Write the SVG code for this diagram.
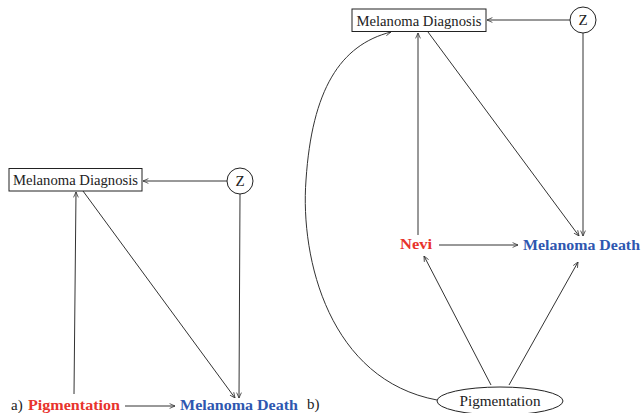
<svg xmlns="http://www.w3.org/2000/svg" width="641" height="413" viewBox="0 0 641 413">
<defs>
<marker id="ah" viewBox="0 0 10 10" refX="10" refY="5" markerWidth="6" markerHeight="6" orient="auto" markerUnits="userSpaceOnUse">
<path d="M1,1 L10,5 L1,9" fill="none" stroke="#333" stroke-width="1.3"/>
</marker>
</defs>
<style>
text{font-family:"Liberation Serif","DejaVu Serif",serif;font-size:15px;fill:#222}
.red{fill:#e8332c;font-weight:bold}
.blue{fill:#2e57b0;font-weight:bold}
.node{fill:#fff;stroke:#222;stroke-width:1}
.edge{fill:none;stroke:#333;stroke-width:1;marker-end:url(#ah)}
</style>
<rect width="641" height="413" fill="#fff"/>
<g id="connectors">
<line class="edge" x1="227" y1="181" x2="143" y2="181"/>
<line class="edge" x1="125" y1="406" x2="175" y2="406"/>
<line class="edge" x1="74" y1="394" x2="76" y2="192"/>
<line class="edge" x1="83" y1="191" x2="235" y2="398"/>
<line class="edge" x1="240" y1="194" x2="239" y2="398"/>
<line class="edge" x1="570" y1="20" x2="487" y2="20"/>
<path class="edge" d="M437,400 C330,380 300,260 306,180 C312,90 340,45 391,32"/>
<line class="edge" x1="418" y1="235" x2="418" y2="33"/>
<line class="edge" x1="428" y1="32" x2="579" y2="236"/>
<line class="edge" x1="583" y1="33" x2="583" y2="236"/>
<line class="edge" x1="439" y1="245" x2="518" y2="245"/>
<line class="edge" x1="491" y1="385" x2="424" y2="256"/>
<line class="edge" x1="509" y1="385" x2="578" y2="262"/>
</g>
<g id="a-diagnosis">
<rect class="node" x="9" y="168.5" width="133" height="22.5"/>
<text x="75.5" y="185" text-anchor="middle" textLength="125" lengthAdjust="spacingAndGlyphs">Melanoma Diagnosis</text>
</g>
<g id="a-z">
<circle class="node" cx="240" cy="181" r="13"/>
<text x="240" y="186" text-anchor="middle">Z</text>
</g>
<g id="a-label"><text x="11" y="410">a)</text></g>
<g id="a-pigmentation">
<text class="red" x="28" y="410" textLength="92" lengthAdjust="spacingAndGlyphs">Pigmentation</text>
</g>
<g id="a-death">
<text class="blue" x="180" y="410" textLength="118" lengthAdjust="spacingAndGlyphs">Melanoma Death</text>
</g>
<g id="b-diagnosis">
<rect class="node" x="352" y="9" width="134" height="22.5"/>
<text x="419" y="25.5" text-anchor="middle" textLength="125" lengthAdjust="spacingAndGlyphs">Melanoma Diagnosis</text>
</g>
<g id="b-z">
<circle class="node" cx="583" cy="20" r="13"/>
<text x="583" y="25" text-anchor="middle">Z</text>
</g>
<g id="b-nevi">
<text class="red" x="400" y="249" textLength="32" lengthAdjust="spacingAndGlyphs">Nevi</text>
</g>
<g id="b-death">
<text class="blue" x="523" y="250" textLength="117" lengthAdjust="spacingAndGlyphs">Melanoma Death</text>
</g>
<g id="b-label"><text x="307" y="409">b)</text></g>
<g id="b-pigmentation">
<ellipse class="node" cx="500" cy="401" rx="63" ry="14"/>
<text x="500" y="406" text-anchor="middle" textLength="81" lengthAdjust="spacingAndGlyphs">Pigmentation</text>
</g>
</svg>
